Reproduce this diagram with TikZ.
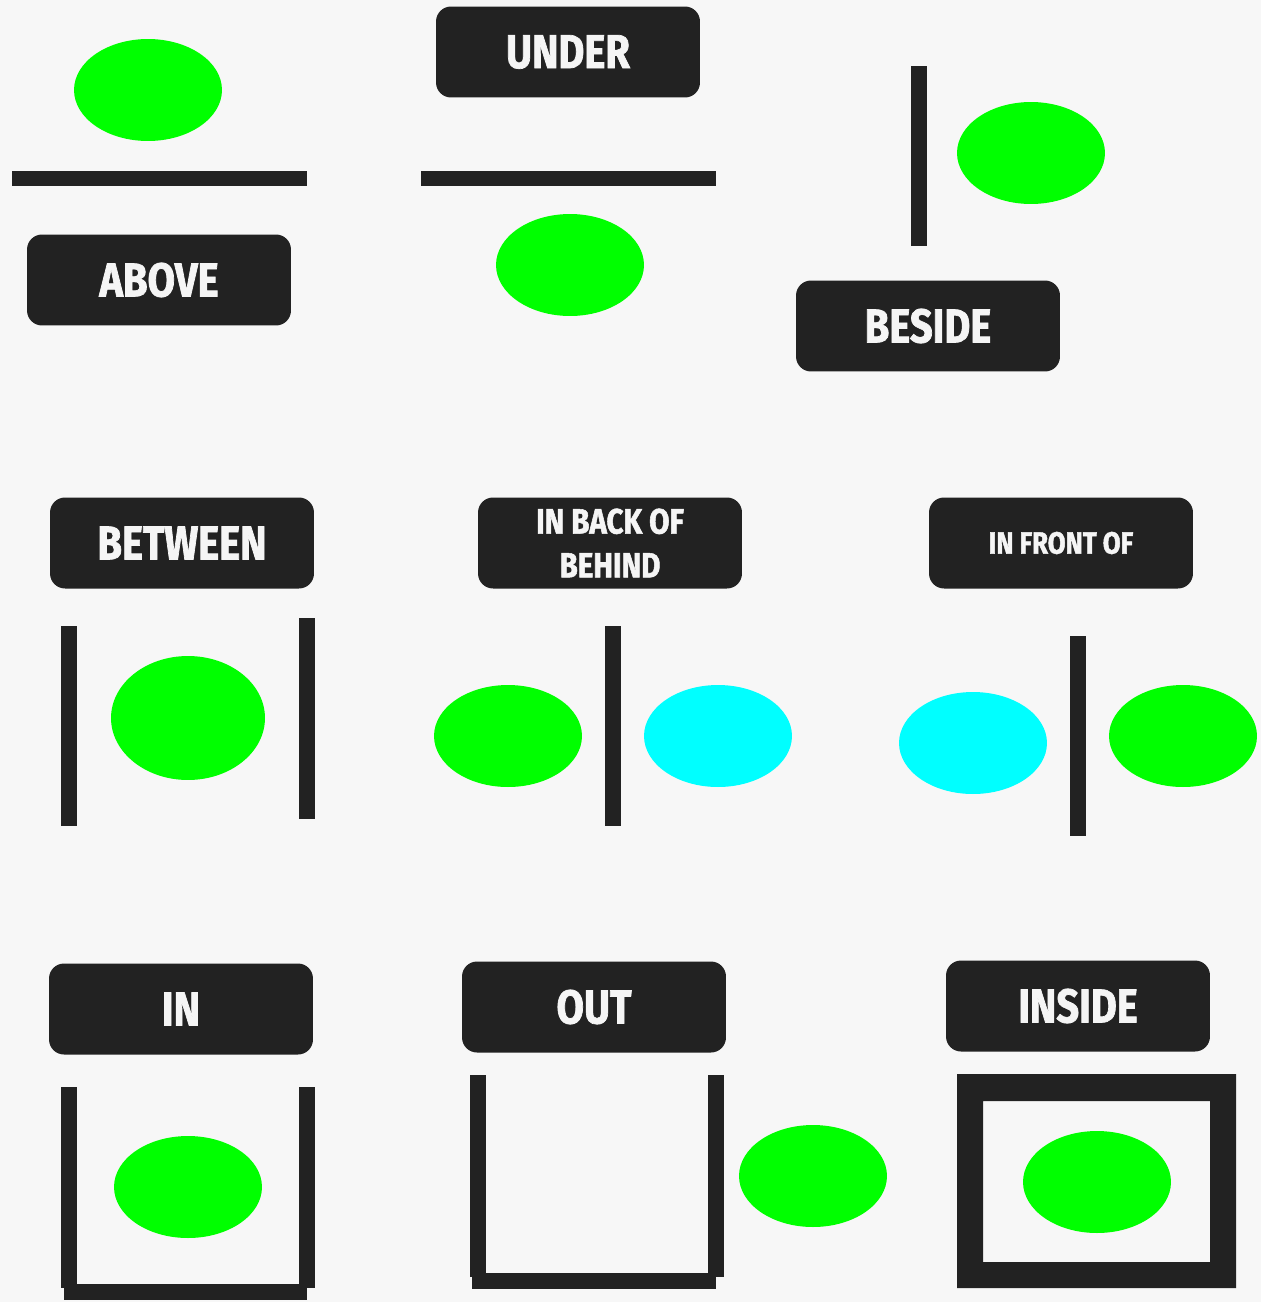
\documentclass[tikz,border=0pt]{standalone}
\usepackage{fontspec}
\newfontfamily\tagfont[FakeStretch=0.84,FakeBold=1.5]{Fira Sans}
\usetikzlibrary{positioning,shapes.geometric}
\definecolor{bgcol}{HTML}{F7F7F7}
\definecolor{barcol}{HTML}{222222}
\definecolor{txtcol}{HTML}{F5F5F5}
\definecolor{ballgreen}{HTML}{00FF00}
\definecolor{ballcyan}{HTML}{00FFFF}

\begin{document}
\begin{tikzpicture}[
        x=0.02cm, y=-0.02cm,
        tag/.style={fill=barcol, rounded corners=0.3cm, minimum width=5.28cm, minimum height=1.82cm, inner sep=0pt, text=txtcol, font=\tagfont\bfseries\fontsize{27}{30}\selectfont, align=center},
        smalltag/.style={tag, font=\tagfont\bfseries\fontsize{20}{25}\selectfont},
        ball/.style={ellipse, fill=ballgreen, minimum width=2.96cm, minimum height=2.04cm, inner sep=0pt},
        cyanball/.style={ball, fill=ballcyan},
        bar/.style={fill=barcol}
    ]
        \useasboundingbox (0,0) rectangle (1261,1302);
        \fill[bgcol] (0,0) rectangle (1261,1302);

        % Row 1: above, under, beside
        \node[ball] (aboveball) at (148,90) {};
        \fill[bar] (12,171) rectangle (307,186);
        \node[tag] (above) at (159,280) {ABOVE};

        \node[tag] (under) at (568,52) {UNDER};
        \fill[bar] (421,171) rectangle (716,186);
        \node[ball] (underball) at (570,265) {};

        \fill[bar] (911,66) rectangle (927,246);
        \node[ball] (besideball) at (1031,153) {};
        \node[tag] (beside) at (928,326) {BESIDE};

        % Row 2: between, in back of, in front of
        \node[tag] (between) at (182,543) {BETWEEN};
        \fill[bar] (61,626) rectangle (77,826);
        \fill[bar] (299,618) rectangle (315,819);
        \node[ball, minimum width=3.08cm, minimum height=2.48cm] (betweenball) at (188,718) {};

        \node[smalltag] (behind) at (610,543) {IN BACK OF\\BEHIND};
        \fill[bar] (605,626) rectangle (621,826);
        \node[ball] (behindball) at (508,736) {};
        \node[cyanball] (behindcyan) at (718,736) {};

        \node[smalltag, font=\tagfont\bfseries\fontsize{17.5}{22}\selectfont] (front) at (1061,543) {IN FRONT OF};
        \fill[bar] (1070,636) rectangle (1086,836);
        \node[cyanball] (frontcyan) at (973,743) {};
        \node[ball] (frontball) at (1183,736) {};

        % Row 3: in, out, inside
        \node[tag] (in) at (181,1009) {IN};
        \fill[bar] (61,1087) rectangle (77,1288);
        \fill[bar] (299,1087) rectangle (315,1288);
        \fill[bar] (64,1284) rectangle (307,1300);
        \node[ball] (inball) at (188,1187) {};

        \node[tag] (out) at (594,1007) {OUT};
        \fill[bar] (470,1075) rectangle (486,1277);
        \fill[bar] (708,1075) rectangle (724,1277);
        \fill[bar] (472,1273) rectangle (716,1289);
        \node[ball] (outball) at (813,1176) {};

        \node[tag] (inside) at (1078,1006) {INSIDE};
        \fill[bar, even odd rule] (957,1074) rectangle (1236,1288) (983,1101) rectangle (1210,1262);
        \node[ball] (insideball) at (1097,1182) {};

    \end{tikzpicture}
\end{document}
